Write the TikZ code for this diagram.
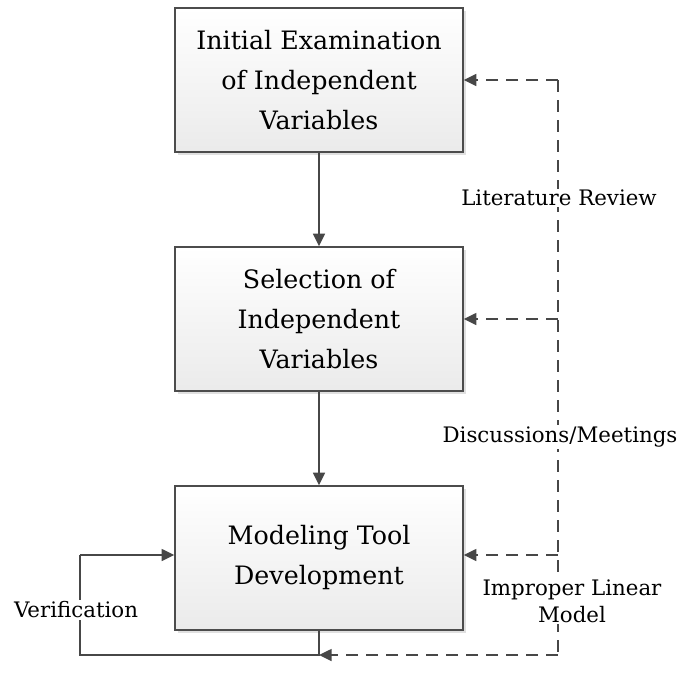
\documentclass[tikz,border=0pt]{standalone}
\usepackage{fontspec}
\setmainfont{DejaVu Serif}
\usetikzlibrary{arrows.meta,shadows}
\begin{document}
\begin{tikzpicture}[x=0.75pt,y=-0.75pt,
  box/.style={draw=black!70, line width=1.1pt, minimum width=216pt, minimum height=108pt,
    top color=white, bottom color=black!8, align=center, font=\fontsize{19}{30}\selectfont,
    drop shadow={shadow xshift=2pt, shadow yshift=-2pt, fill=black!20, opacity=0.6}},
  conn/.style={draw=black!72, line width=1.1pt, -{Triangle[length=9.5pt,width=9pt]}},
  dconn/.style={conn, dash pattern=on 9pt off 6pt},
  dline/.style={draw=black!72, line width=1.1pt, dash pattern=on 9pt off 6pt},
  lbl/.style={fill=white, inner sep=1pt, font=\fontsize{16}{20}\selectfont, align=center}]
\useasboundingbox (0,0) rectangle (680,686);
\node[box] (b1) at (319,80) {Initial Examination\\of Independent\\Variables};
\node[box] (b2) at (319,319) {Selection of\\Independent\\Variables};
\node[box] (b3) at (319,558) {Modeling Tool\\Development};
\coordinate (d1) at (558,80);
\coordinate (d2) at (558,319);
\coordinate (d3) at (558,555);
\coordinate (d4) at (558,655);
\coordinate (v0) at (319,655);
\coordinate (v1) at (80,655);
\coordinate (v2) at (80,555);
\draw[conn] (b1) -- (b2);
\draw[conn] (b2) -- (b3);
\draw[dline] (d1) -- (d4);
\draw[dconn] (d1) -- (b1.east |- d1);
\draw[dconn] (d2) -- (b2.east |- d2);
\draw[dconn] (d3) -- (b3.east |- d3);
\draw[dconn] (d4) -- (v0);
\draw[draw=black!72, line width=1.1pt] (b3.south) -- (v0) -- (v1) -- (v2);
\draw[conn] (v2) -- (b3.west |- v2);
\node[lbl] (l1) at (559,198) {Literature Review};
\node[lbl] (l2) at (560,437) {Discussions/Meetings};
\node[lbl] (l3) at (572,601) {Improper Linear\\Model};
\node[lbl] (l4) at (76,610) {Verification};
\end{tikzpicture}
\end{document}
